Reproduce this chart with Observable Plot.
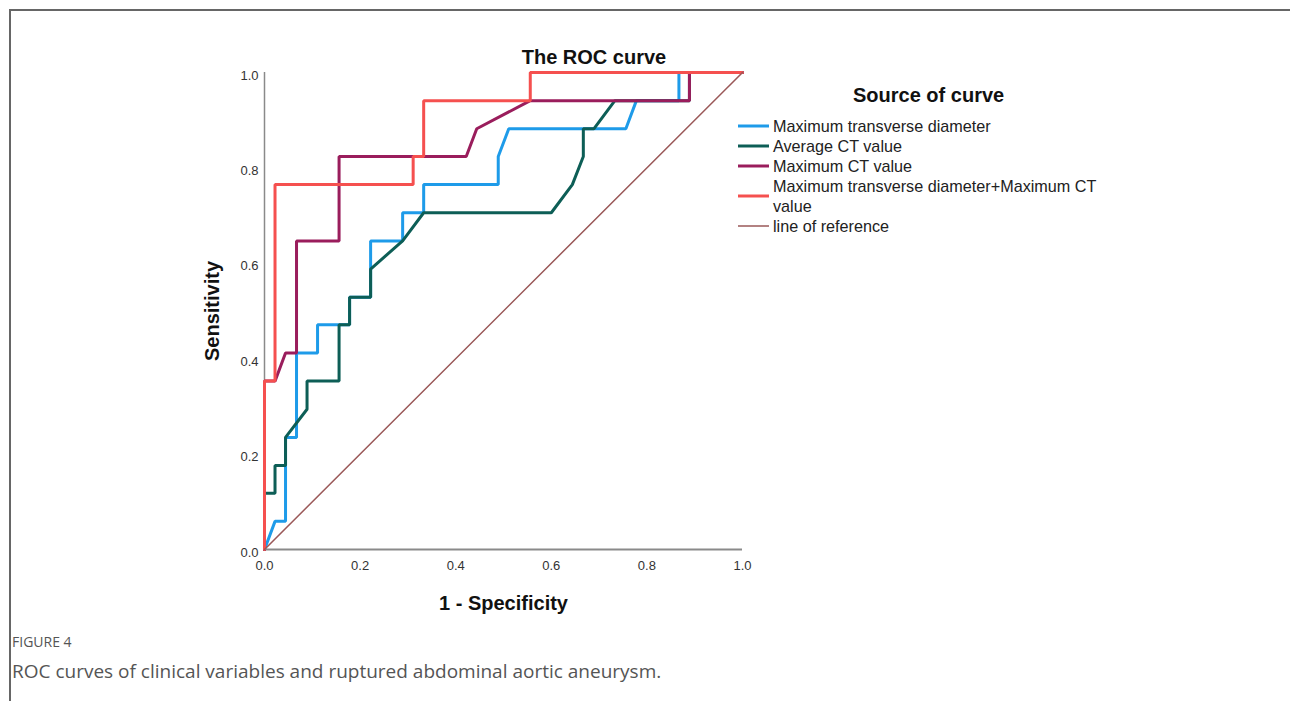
<!DOCTYPE html>
<html>
<head>
<meta charset="utf-8">
<script src="https://cdn.jsdelivr.net/npm/d3@7"></script>
<script src="https://cdn.jsdelivr.net/npm/@observablehq/plot@0.6"></script>
<style>
  html, body { margin: 0; padding: 0; background: #fff; }
  body { width: 1290px; height: 701px; position: relative; overflow: hidden; font-family: "Liberation Sans", Arial, sans-serif; }
  #chart { position: absolute; left: 0; top: 0; }
  .frame-top { position: absolute; left: 9px; top: 9px; width: 1281px; height: 2px; background: #666; }
  .frame-left { position: absolute; left: 9px; top: 9px; width: 2px; height: 692px; background: #666; }
  .title { position: absolute; left: 444px; width: 300px; top: 45px; text-align: center; font-weight: bold; font-size: 20px; line-height: 24px; color: #111; }
  .legend { position: absolute; left: 738px; top: 81px; color: #222; }
  .legend-title { font-weight: bold; font-size: 20px; line-height: 28px; margin-left: 115px; margin-bottom: 7px; color: #111; }
  .legend-row { position: relative; font-size: 16.2px; line-height: 20px; padding-left: 35px; }
  .legend-row svg { position: absolute; left: 0; top: 50%; margin-top: -2px; }
  .caption { position: absolute; left: 12px; top: 632px; font-family: "Open Sans", "Noto Sans", sans-serif; color: #555; }
  .cap1 { font-size: 14px; line-height: 20px; }
  .cap2 { font-size: 19px; line-height: 26px; margin-top: 6px; }
</style>
</head>
<body>
<div class="frame-top"></div>
<div class="frame-left"></div>
<div id="chart"></div>
<div class="title">The ROC curve</div>
<div class="legend" id="legend"></div>
<div class="caption">
  <div class="cap1">FIGURE 4</div>
  <div class="cap2">ROC curves of clinical variables and ruptured abdominal aortic aneurysm.</div>
</div>
<script>
// ---- data (1 - specificity, sensitivity) ----
const seriesNames = [
  "Maximum transverse diameter",
  "Average CT value",
  "Maximum CT value",
  "Maximum transverse diameter+Maximum CT value",
  "line of reference"
];
const seriesColors = ["#1e9be9", "#0d5e56", "#9a1d5c", "#f5504f", "#9a5858"];

const diamX = [0, 0.022, 0.044, 0.044, 0.067, 0.067, 0.111, 0.111, 0.156, 0.178, 0.178, 0.222, 0.222, 0.289, 0.289, 0.333, 0.333, 0.489, 0.489, 0.511, 0.756, 0.778, 0.867, 0.867, 1.0];
const diamY = [0, 0.059, 0.059, 0.235, 0.235, 0.412, 0.412, 0.471, 0.471, 0.471, 0.529, 0.529, 0.647, 0.647, 0.706, 0.706, 0.765, 0.765, 0.824, 0.882, 0.882, 0.941, 0.941, 1.0, 1.0];

const avgCtX = [0, 0, 0.022, 0.022, 0.044, 0.044, 0.089, 0.089, 0.156, 0.156, 0.178, 0.178, 0.222, 0.222, 0.289, 0.333, 0.6, 0.644, 0.667, 0.667, 0.689, 0.733, 0.889, 0.889, 1.0];
const avgCtY = [0, 0.118, 0.118, 0.176, 0.176, 0.235, 0.294, 0.353, 0.353, 0.471, 0.471, 0.529, 0.529, 0.588, 0.647, 0.706, 0.706, 0.765, 0.824, 0.882, 0.882, 0.941, 0.941, 1.0, 1.0];

const maxCtX = [0, 0, 0.022, 0.044, 0.067, 0.067, 0.156, 0.156, 0.422, 0.444, 0.556, 0.889, 0.889, 1.0];
const maxCtY = [0, 0.353, 0.353, 0.412, 0.412, 0.647, 0.647, 0.824, 0.824, 0.882, 0.941, 0.941, 1.0, 1.0];

const comboX = [0, 0, 0.022, 0.022, 0.311, 0.311, 0.333, 0.333, 0.556, 0.556, 1.0];
const comboY = [0, 0.353, 0.353, 0.765, 0.765, 0.824, 0.824, 0.941, 0.941, 1.0, 1.0];

const refX = [0, 1];
const refY = [0, 1];

const tickValues = [0, 0.2, 0.4, 0.6, 0.8, 1.0];
const xLabel = "1 - Specificity";
const yLabel = "Sensitivity";

// ---- build ----
const toPts = (xs, ys) => xs.map((x, i) => ({x, y: ys[i]}));
const curves = [
  toPts(diamX, diamY),
  toPts(avgCtX, avgCtY),
  toPts(maxCtX, maxCtY),
  toPts(comboX, comboY)
];

const font = "Liberation Sans, Arial, sans-serif";

const plot = Plot.plot({
  width: 1290,
  height: 701,
  marginLeft: 264,
  marginRight: 548,
  marginTop: 72,
  marginBottom: 152,
  style: { fontFamily: font, background: "transparent", overflow: "visible" },
  x: { domain: [0, 1] },
  y: { domain: [0, 1] },
  marks: [
    Plot.ruleY([0], { stroke: "#8a8a8a", strokeWidth: 2 }),
    Plot.ruleX([0], { stroke: "#8a8a8a", strokeWidth: 1.5 }),
    Plot.axisX({ ticks: tickValues, tickFormat: d3.format(".1f"), tickSize: 0, tickPadding: 11, fontSize: 13, fill: "#333", label: null }),
    Plot.axisY({ ticks: tickValues, tickFormat: d3.format(".1f"), tickSize: 0, tickPadding: 6, dy: 3, fontSize: 13, fill: "#333", label: null }),
    ...curves.map((pts, i) => Plot.line(pts, { x: "x", y: "y", stroke: seriesColors[i], strokeWidth: 3, strokeLinejoin: "miter" })),
    Plot.line(toPts(refX, refY), { x: "x", y: "y", stroke: seriesColors[4], strokeWidth: 1.5 }),
    Plot.text([xLabel], { frameAnchor: "bottom", dy: 54, text: d => d, fontSize: 20, fontWeight: "bold", fill: "#111", lineAnchor: "middle", textAnchor: "middle" }),
    Plot.text([yLabel], { frameAnchor: "left", dx: -52, text: d => d, rotate: -90, fontSize: 20, fontWeight: "bold", fill: "#111", lineAnchor: "middle", textAnchor: "middle" })
  ]
});
document.getElementById("chart").appendChild(plot);

// ---- legend ----
const legend = document.getElementById("legend");
const lt = document.createElement("div");
lt.className = "legend-title";
lt.textContent = "Source of curve";
legend.appendChild(lt);
seriesNames.forEach((name, i) => {
  const row = document.createElement("div");
  row.className = "legend-row";
  const sw = i === 4 ? 1.5 : 3;
  row.innerHTML = `<svg width="31" height="4"><line x1="0" x2="31" y1="2" y2="2" stroke="${seriesColors[i]}" stroke-width="${sw}"/></svg>`;
  const span = document.createElement("span");
  if (i === 3) {
    span.innerHTML = "Maximum transverse diameter+Maximum CT<br>value";
  } else {
    span.textContent = name;
  }
  row.appendChild(span);
  legend.appendChild(row);
});
</script>
</body>
</html>
